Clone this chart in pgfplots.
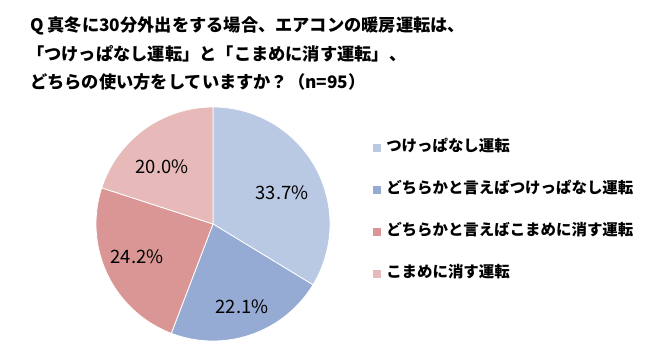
\documentclass[border=0pt]{standalone}
\usepackage{fontspec}
\setmainfont{Noto Sans CJK JP}
\usepackage{pgfplots}
\usepackage{pgfplotstable}
\pgfplotsset{compat=1.18}
\definecolor{s1}{HTML}{B9C8E3}
\definecolor{s2}{HTML}{95ABD4}
\definecolor{s3}{HTML}{D99694}
\definecolor{s4}{HTML}{E7B9B8}

\pgfplotstableread{
id value
1 33.7
2 22.1
3 24.2
4 20.0
}\piedata

\begin{document}
\begin{tikzpicture}[x=1bp,y=1bp]
\pgfplotstablegetelem{0}{value}\of\piedata \edef\va{\pgfplotsretval}
\pgfplotstablegetelem{1}{value}\of\piedata \edef\vb{\pgfplotsretval}
\pgfplotstablegetelem{2}{value}\of\piedata \edef\vc{\pgfplotsretval}
\pgfplotstablegetelem{3}{value}\of\piedata \edef\vd{\pgfplotsretval}
\pgfmathsetmacro\aA{90}
\pgfmathsetmacro\aB{90-3.6*\va}
\pgfmathsetmacro\aC{\aB-3.6*\vb}
\pgfmathsetmacro\aD{\aC-3.6*\vc}
\pgfmathsetmacro\aE{\aD-3.6*\vd}
\path (0,0) rectangle (650,357);
\begin{scope}[every node/.style={anchor=west, inner sep=0pt, font=\bfseries\fontsize{17.3}{20}\selectfont}]
\node at (30,331) {Q 真冬に30分外出をする場合、エアコンの暖房運転は、};
\node at (27,303) {「つけっぱなし運転」と「こまめに消す運転」、};
\node at (30,275) {どちらの使い方をしていますか？（n=95）};
\end{scope}
\begin{axis}[at={(213bp,133bp)}, anchor=origin, scale only axis,
  width=234bp, height=234bp, xmin=-1, xmax=1, ymin=-1, ymax=1,
  hide axis, clip=false,
  legend cell align=left,
  legend style={at={(1.184,0.859)}, anchor=north west, draw=none, fill=none,
    row sep=27bp, column sep=5bp, inner sep=0pt,
    font=\bfseries\fontsize{15.5}{18}\selectfont,
    nodes={inner sep=0pt, text height=11bp, text depth=4bp}},
  legend image code/.code={\fill[#1, draw=none] (0bp,-4bp) rectangle (8bp,4bp);},
]
\addplot[fill=s1, draw=white, line width=0.8pt, domain=\aB:\aA, samples=100]
  ({cos(x)},{sin(x)}) -- (axis cs:0,0) -- cycle;
\addlegendentry{つけっぱなし運転}
\addplot[fill=s2, draw=white, line width=0.8pt, domain=\aC:\aB, samples=100]
  ({cos(x)},{sin(x)}) -- (axis cs:0,0) -- cycle;
\addlegendentry{どちらかと言えばつけっぱなし運転}
\addplot[fill=s3, draw=white, line width=0.8pt, domain=\aD:\aC, samples=100]
  ({cos(x)},{sin(x)}) -- (axis cs:0,0) -- cycle;
\addlegendentry{どちらかと言えばこまめに消す運転}
\addplot[fill=s4, draw=white, line width=0.8pt, domain=\aE:\aD, samples=100]
  ({cos(x)},{sin(x)}) -- (axis cs:0,0) -- cycle;
\addlegendentry{こまめに消す運転}
\begin{scope}[every node/.style={font=\fontsize{18.5}{20}\selectfont}]
\node at (axis cs:0.59,0.265) {\pgfmathprintnumber[fixed,fixed zerofill,precision=1,assume math mode=true]{\va}\%};
\node at (axis cs:0.248,-0.709) {\pgfmathprintnumber[fixed,fixed zerofill,precision=1,assume math mode=true]{\vb}\%};
\node at (axis cs:-0.65,-0.282) {\pgfmathprintnumber[fixed,fixed zerofill,precision=1,assume math mode=true]{\vc}\%};
\node at (axis cs:-0.436,0.487) {\pgfmathprintnumber[fixed,fixed zerofill,precision=1,assume math mode=true]{\vd}\%};
\end{scope}
\end{axis}
\end{tikzpicture}
\end{document}
